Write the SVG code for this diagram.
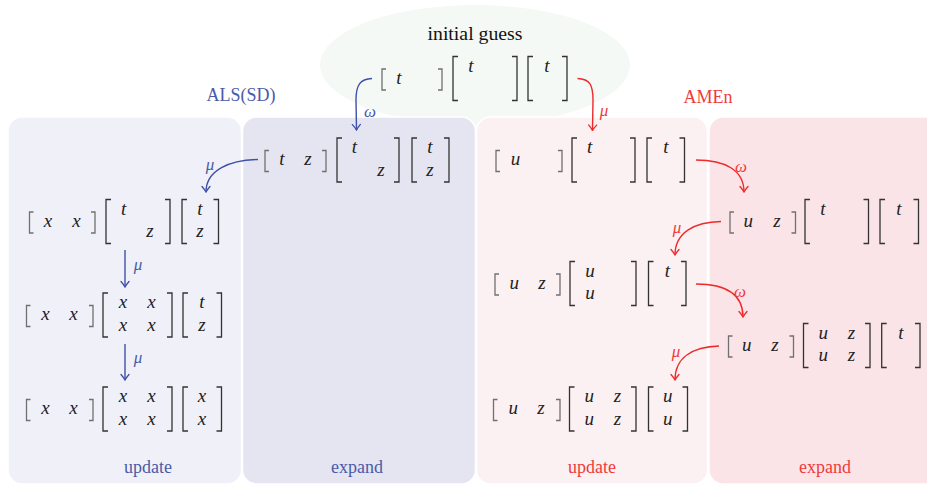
<svg xmlns="http://www.w3.org/2000/svg" width="927" height="485" viewBox="0 0 927 485">
<defs>
<style>
.m{font-family:"Liberation Serif",serif;font-style:italic;font-size:19px;fill:#222;text-anchor:middle}
.rb{fill:none;stroke:#707070;stroke-width:1.3}
.mb{fill:none;stroke:#333;stroke-width:1.3}
.lbl{font-family:"Liberation Serif",serif;font-size:18px;text-anchor:middle}
.blue{fill:#4a5aa8}
.red{fill:#ef3b3b}
.gb{font-family:"Liberation Serif",serif;font-style:italic;font-size:17px;text-anchor:middle;fill:#4a5aa8}
.gr{font-family:"Liberation Serif",serif;font-style:italic;font-size:17px;text-anchor:middle;fill:#ef3b3b}
.cb{fill:none;stroke:#3f50a8;stroke-width:1.4}
.cr{fill:none;stroke:#ee2a2a;stroke-width:1.4}
.panel{stroke:#fff;stroke-width:1.5}
</style>
<marker id="ab" viewBox="-7 -5 8 10" refX="0" refY="0" markerWidth="8" markerHeight="10" markerUnits="userSpaceOnUse" orient="auto">
<path d="M-5.5,-4 Q-2,-1 0,0 Q-2,1 -5.5,4" fill="none" stroke="#3f50a8" stroke-width="1.3" stroke-linecap="round"/>
</marker>
<marker id="ar" viewBox="-7 -5 8 10" refX="0" refY="0" markerWidth="8" markerHeight="10" markerUnits="userSpaceOnUse" orient="auto">
<path d="M-5.5,-4 Q-2,-1 0,0 Q-2,1 -5.5,4" fill="none" stroke="#ee2a2a" stroke-width="1.3" stroke-linecap="round"/>
</marker>
</defs>
<rect width="927" height="485" fill="#fff"/>

<g id="initial-guess-area">
<ellipse cx="475" cy="65" rx="155" ry="60" fill="#f4f9f5"/>
</g>

<g id="panel-als-update"><rect class="panel" x="8" y="117" width="233.5" height="367" rx="14" fill="#f0f1f8"/></g>
<g id="panel-als-expand"><rect class="panel" x="242.5" y="117" width="233" height="367" rx="14" fill="#e5e5f2"/></g>
<g id="panel-amen-update"><rect class="panel" x="476.5" y="117" width="231" height="367" rx="14" fill="#fbf0f2"/></g>
<g id="panel-amen-expand"><rect class="panel" x="709" y="117" width="240" height="367" rx="14" fill="#fae4e7"/></g>

<g id="labels">
<text class="lbl" x="475" y="40" fill="#111" textLength="95" lengthAdjust="spacingAndGlyphs">initial guess</text>
<text class="lbl blue" x="241" y="101">ALS(SD)</text>
<text class="lbl red" x="708" y="103">AMEn</text>
<text class="lbl blue" x="148" y="473">update</text>
<text class="lbl blue" x="357" y="473">expand</text>
<text class="lbl red" x="592" y="473">update</text>
<text class="lbl red" x="825" y="473">expand</text>
</g>

<g id="node-initial">
<path class="rb" d="M386 69 H382 V90 H386 M438 69 H442 V90 H438"/>
<path class="mb" d="M458 56.5 H453 V100.5 H458 M512 56.5 H517 V100.5 H512"/>
<path class="mb" d="M533 56.5 H528 V100.5 H533 M562 56.5 H567 V100.5 H562"/>
<text class="m" x="399" y="83.5">t</text>
<text class="m" x="471" y="71.5">t</text>
<text class="m" x="547" y="71.5">t</text>
</g>

<g id="node-als-expand">
<path class="rb" d="M269 150.5 H265 V171.5 H269 M322 150.5 H326 V171.5 H322"/>
<path class="mb" d="M342 138 H337 V182 H342 M394 138 H399 V182 H394"/>
<path class="mb" d="M417 138 H412 V182 H417 M444 138 H449 V182 H444"/>
<text class="m" x="282" y="165">t</text><text class="m" x="308" y="165">z</text>
<text class="m" x="354.5" y="153">t</text><text class="m" x="381" y="175.5">z</text>
<text class="m" x="430" y="153">t</text><text class="m" x="430" y="175.5">z</text>
</g>

<g id="node-als-update-1">
<path class="rb" d="M33.5 212 H29.5 V233 H33.5 M91 212 H95 V233 H91"/>
<path class="mb" d="M111 199.5 H106 V243.5 H111 M165 199.5 H170 V243.5 H165"/>
<path class="mb" d="M187 199.5 H182 V243.5 H187 M213.5 199.5 H218.5 V243.5 H213.5"/>
<text class="m" x="48" y="226.5">x</text><text class="m" x="76.5" y="226.5">x</text>
<text class="m" x="123.7" y="214.5">t</text><text class="m" x="150" y="237">z</text>
<text class="m" x="200" y="214.5">t</text><text class="m" x="200" y="237">z</text>
</g>

<g id="node-als-update-2">
<path class="rb" d="M30.5 305.5 H26.5 V326.5 H30.5 M89 305.5 H93 V326.5 H89"/>
<path class="mb" d="M108 293 H103 V337 H108 M167 293 H172 V337 H167"/>
<path class="mb" d="M188 293 H183 V337 H188 M216.5 293 H221.5 V337 H216.5"/>
<text class="m" x="45.5" y="320">x</text><text class="m" x="73.5" y="320">x</text>
<text class="m" x="123" y="308">x</text><text class="m" x="151.5" y="308">x</text>
<text class="m" x="123" y="330.5">x</text><text class="m" x="151.5" y="330.5">x</text>
<text class="m" x="202" y="308">t</text><text class="m" x="202" y="330.5">z</text>
</g>

<g id="node-als-update-3">
<path class="rb" d="M30.5 399.5 H26.5 V420.5 H30.5 M89 399.5 H93 V420.5 H89"/>
<path class="mb" d="M108 387 H103 V431 H108 M167 387 H172 V431 H167"/>
<path class="mb" d="M188 387 H183 V431 H188 M216.5 387 H221.5 V431 H216.5"/>
<text class="m" x="45.5" y="414">x</text><text class="m" x="73.5" y="414">x</text>
<text class="m" x="123" y="402">x</text><text class="m" x="151.5" y="402">x</text>
<text class="m" x="123" y="424.5">x</text><text class="m" x="151.5" y="424.5">x</text>
<text class="m" x="202" y="402">x</text><text class="m" x="202" y="424.5">x</text>
</g>

<g id="node-amen-update-1">
<path class="rb" d="M500 150.5 H496 V171.5 H500 M558 150.5 H562 V171.5 H558"/>
<path class="mb" d="M577 138 H572 V182 H577 M630 138 H635 V182 H630"/>
<path class="mb" d="M652 138 H647 V182 H652 M679.5 138 H684.5 V182 H679.5"/>
<text class="m" x="515.5" y="165">u</text>
<text class="m" x="589.7" y="153">t</text>
<text class="m" x="666" y="153">t</text>
</g>

<g id="node-amen-update-2">
<path class="rb" d="M499 274 H495 V295 H499 M556 274 H560 V295 H556"/>
<path class="mb" d="M575 261.5 H570 V305.5 H575 M631 261.5 H636 V305.5 H631"/>
<path class="mb" d="M653.5 261.5 H648.5 V305.5 H653.5 M681 261.5 H686 V305.5 H681"/>
<text class="m" x="514.3" y="288.5">u</text><text class="m" x="542" y="288.5">z</text>
<text class="m" x="590" y="276.5">u</text><text class="m" x="590" y="299">u</text>
<text class="m" x="667.5" y="276.5">t</text>
</g>

<g id="node-amen-update-3">
<path class="rb" d="M497.5 399.5 H493.5 V420.5 H497.5 M556 399.5 H560 V420.5 H556"/>
<path class="mb" d="M574.5 387 H569.5 V431 H574.5 M631 387 H636 V431 H631"/>
<path class="mb" d="M653.5 387 H648.5 V431 H653.5 M682.5 387 H687.5 V431 H682.5"/>
<text class="m" x="513.3" y="414">u</text><text class="m" x="541" y="414">z</text>
<text class="m" x="589.3" y="402">u</text><text class="m" x="617.5" y="402">z</text>
<text class="m" x="589.3" y="424.5">u</text><text class="m" x="617.5" y="424.5">z</text>
<text class="m" x="667.7" y="402">u</text><text class="m" x="667.7" y="424.5">u</text>
</g>

<g id="node-amen-expand-1">
<path class="rb" d="M734 212 H730 V233 H734 M791.5 212 H795.5 V233 H791.5"/>
<path class="mb" d="M810 199.5 H805 V243.5 H810 M863.5 199.5 H868.5 V243.5 H863.5"/>
<path class="mb" d="M885 199.5 H880 V243.5 H885 M913.5 199.5 H918.5 V243.5 H913.5"/>
<text class="m" x="748.3" y="226.5">u</text><text class="m" x="777" y="226.5">z</text>
<text class="m" x="823" y="214.5">t</text>
<text class="m" x="899" y="214.5">t</text>
</g>

<g id="node-amen-expand-2">
<path class="rb" d="M732.5 336 H728.5 V357 H732.5 M789.5 336 H793.5 V357 H789.5"/>
<path class="mb" d="M808.5 323.5 H803.5 V367.5 H808.5 M865 323.5 H870 V367.5 H865"/>
<path class="mb" d="M886.7 323.5 H881.7 V367.5 H886.7 M915 323.5 H920 V367.5 H915"/>
<text class="m" x="746.7" y="350.5">u</text><text class="m" x="775" y="350.5">z</text>
<text class="m" x="823.3" y="338.5">u</text><text class="m" x="851.5" y="338.5">z</text>
<text class="m" x="823.3" y="361">u</text><text class="m" x="851.5" y="361">z</text>
<text class="m" x="901" y="338.5">t</text>
</g>

<g id="connectors">
<path class="cb" marker-end="url(#ab)" d="M372 78.5 C360 79 356 85 356 100 L356.5 130"/>
<text class="gb" x="370" y="117">ω</text>
<path class="cr" marker-end="url(#ar)" d="M577.5 78.5 C590 79 593 85 593 100 L592.5 130.5"/>
<text class="gr" x="604" y="116">μ</text>
<path class="cb" marker-end="url(#ab)" d="M258 159.5 C230 160 206 170 206 192"/>
<text class="gb" x="210" y="170">μ</text>
<path class="cb" marker-end="url(#ab)" d="M125 250 L125 287"/>
<text class="gb" x="138" y="269.5">μ</text>
<path class="cb" marker-end="url(#ab)" d="M125 344 L125 380"/>
<text class="gb" x="138" y="363">μ</text>
<path class="cr" marker-end="url(#ar)" d="M696 160 C725 160 744 170 744 192"/>
<text class="gr" x="741" y="172">ω</text>
<path class="cr" marker-end="url(#ar)" d="M721 221.5 C695 222 675 232 675 255"/>
<text class="gr" x="677" y="233">μ</text>
<path class="cr" marker-end="url(#ar)" d="M696 284 C725 284 743 294 743 317"/>
<text class="gr" x="740" y="297">ω</text>
<path class="cr" marker-end="url(#ar)" d="M719 346 C693 347 675 357 675 380"/>
<text class="gr" x="676" y="357">μ</text>
</g>
</svg>
